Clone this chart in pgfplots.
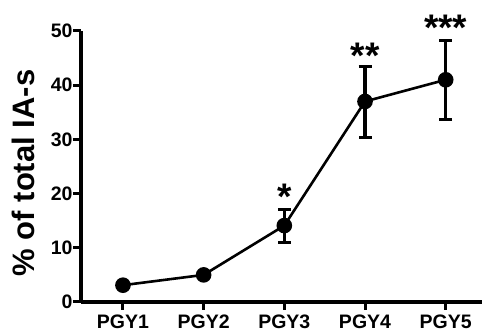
\documentclass[border=0pt]{standalone}
\usepackage{fontspec}
\setmainfont{Liberation Sans}
\usepackage{pgfplots}
\pgfplotsset{compat=1.18}
\usepackage{pgfplotstable}
\pgfplotstableread{
x y ep em
1 3.1 0 0
2 5.0 0 0
3 14.1 2.9 3.1
4 37.0 6.5 6.7
5 41.0 7.3 7.4
}\datatable
\begin{document}
\begin{tikzpicture}
\begin{axis}[
  at={(0,0)}, anchor=south west,
  scale only axis,
  width=401pt, height=271pt,
  xmin=0.48, xmax=5.45, ymin=0, ymax=50,
  axis x line*=bottom, axis y line*=left,
  axis line style={line width=3.2pt, black},
  xtick={1,2,3,4,5},
  xticklabels={PGY1,PGY2,PGY3,PGY4,PGY5},
  ytick={0,10,20,30,40,50},
  tick align=outside,
  major tick length=8pt,
  tick style={line width=3pt, black},
  /pgf/number format/assume math mode=true,
  tick label style={font=\fontsize{19.5}{19.5}\selectfont\bfseries},
  xticklabel style={yshift=-1pt},
  yticklabel style={xshift=3pt},
  clip=false,
]
\addplot[black, line width=2.6pt, mark=*, mark size=6.5pt,
  error bars/.cd, y dir=both, y explicit,
  error bar style={line width=3.2pt, black},
  error mark options={rotate=90, mark size=6.5pt, line width=3.2pt, black}]
  table[x=x, y=y, y error plus=ep, y error minus=em] {\datatable};
\node[font=\fontsize{37}{37}\selectfont\bfseries] at (axis cs:3,19.4) {*};
\node[font=\fontsize{37}{37}\selectfont\bfseries] at (axis cs:4,45.4) {**};
\node[font=\fontsize{37}{37}\selectfont\bfseries] at (axis cs:5,50.6) {***};
\end{axis}
\node[rotate=90, font=\fontsize{31}{31}\selectfont\bfseries] at (-58pt,129pt) {\% of total IA-s};
\pgfresetboundingbox
\path (-81pt,-34pt) rectangle (401pt,302pt);
\end{tikzpicture}
\end{document}
